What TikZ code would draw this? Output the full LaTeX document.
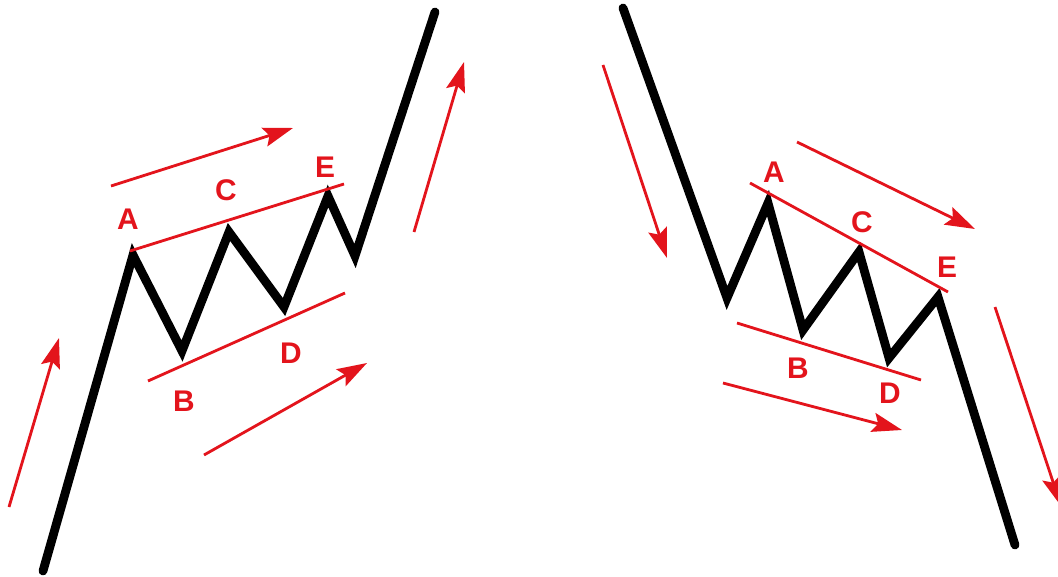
\documentclass[tikz,border=0pt]{standalone}
\usepackage{fontspec}
\setmainfont{Liberation Sans}
\usetikzlibrary{arrows.meta}
\definecolor{wavered}{HTML}{E3141C}

\begin{document}
\begin{tikzpicture}[
    x=0.02cm, y=-0.02cm,
    wave/.style={line width=5pt, black, line cap=round},
    trend/.style={line width=1.6pt, wavered},
    move/.style={line width=1.6pt, wavered,
        -{Stealth[length=17pt, width=11pt, inset=3pt]}},
    lbl/.style={text=wavered, inner sep=0pt,
        font=\fontsize{17}{17}\selectfont\bfseries}
]
\useasboundingbox (0,0) rectangle (1058,577);
\clip (0,0) rectangle (1058,577);

% bullish triangle
\coordinate (ustart) at (43,571);
\coordinate (ua)     at (133,255);
\coordinate (ub)     at (182,351);
\coordinate (uc)     at (229,232);
\coordinate (ud)     at (284,307);
\coordinate (ue)     at (328,196);
\coordinate (uf)     at (355,256);
\coordinate (uend)   at (435,12);
\draw[wave] (ustart) -- (ua) -- (ub) -- (uc) -- (ud) -- (ue) -- (uf) -- (uend);

\coordinate (utop1) at (130,251);
\coordinate (utop2) at (344,184);
\coordinate (ubot1) at (148,381);
\coordinate (ubot2) at (345,293);
\draw[trend] (utop1) -- (utop2);
\draw[trend] (ubot1) -- (ubot2);

\node[lbl] (ula) at (128,219) {A};
\node[lbl] (ulc) at (226,190) {C};
\node[lbl] (ule) at (325,167) {E};
\node[lbl] (ulb) at (184,401) {B};
\node[lbl] (uld) at (291,353) {D};

\coordinate (uin1)  at (9,507);    \coordinate (uin2)  at (59,338);
\coordinate (uhi1)  at (111,186);  \coordinate (uhi2)  at (293,128);
\coordinate (ulo1)  at (204,455);  \coordinate (ulo2)  at (367,363);
\coordinate (uout1) at (414,232);  \coordinate (uout2) at (464,62);

% bearish triangle
\coordinate (dstart) at (623,8);
\coordinate (da0)    at (727,298);
\coordinate (da)     at (768,203);
\coordinate (db)     at (803,330);
\coordinate (dc)     at (859,252);
\coordinate (dd)     at (889,358);
\coordinate (de)     at (938,297);
\coordinate (dend)   at (1015,545);
\draw[wave] (dstart) -- (da0) -- (da) -- (db) -- (dc) -- (dd) -- (de) -- (dend);

\coordinate (dtop1) at (750,183);
\coordinate (dtop2) at (948,292);
\coordinate (dbot1) at (737,323);
\coordinate (dbot2) at (921,380);
\draw[trend] (dtop1) -- (dtop2);
\draw[trend] (dbot1) -- (dbot2);

\node[lbl] (dla) at (774,172) {A};
\node[lbl] (dlc) at (862,222) {C};
\node[lbl] (dle) at (947,267) {E};
\node[lbl] (dlb) at (798,368) {B};
\node[lbl] (dld) at (890,393) {D};

\coordinate (din1)  at (603,65);   \coordinate (din2)  at (667,258);
\coordinate (dhi1)  at (797,142);  \coordinate (dhi2)  at (975,229);
\coordinate (dlo1)  at (723,383);  \coordinate (dlo2)  at (902,430);
\coordinate (dout1) at (995,307);  \coordinate (dout2) at (1061,506);

\foreach \a/\b in {uin1/uin2, uhi1/uhi2, ulo1/ulo2, uout1/uout2,
                   din1/din2, dhi1/dhi2, dlo1/dlo2, dout1/dout2}
  \draw[move] (\a) -- (\b);
\end{tikzpicture}
\end{document}
